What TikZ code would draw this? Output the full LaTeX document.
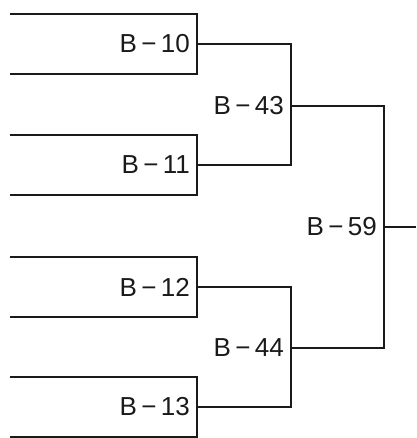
\documentclass[tikz,border=0pt]{standalone}
\usepackage{fontspec}
\setsansfont{Liberation Sans}
\usepackage{tikz}
\usetikzlibrary{positioning,calc}
\definecolor{ink}{HTML}{1A1A1A}
\tikzset{
  every node/.style={font=\sffamily\fontsize{26}{30}\selectfont, text=ink},
  % --- nodes
  team/.style  = {minimum width=187pt, minimum height=60pt, inner xsep=7pt,
                  text width=173pt, align=right, anchor=east},
  rnd/.style   = {anchor=east, inner xsep=7pt, inner ysep=2pt},
  % --- edges
  e/.style     = {draw=ink, line width=1.8pt},
}
\begin{document}
\begin{tikzpicture}[x=1pt,y=1pt]
  \useasboundingbox (0,0) rectangle (416,-438);
  \node[team] (b10) at (197,-44)  {B\,−\,10};
  \node[team] (b11) at (197,-165) {B\,−\,11};
  \node[team] (b12) at (197,-287) {B\,−\,12};
  \node[team] (b13) at (197,-407) {B\,−\,13};
  \node[rnd] (b43) at (291,-106) {B\,−\,43};
  \node[rnd] (b44) at (291,-348) {B\,−\,44};
  \node[rnd] (b59) at (384,-227) {B\,−\,59};
  \coordinate (out) at (416,-227);
  \foreach \n in {b10,b11,b12,b13}
    \draw[e] (\n.north west) -- (\n.north east) -- (\n.south east) -- (\n.south west);
  \draw[e] (b10.east) -| (b43.east); \draw[e] (b43.east) |- (b11.east);
  \draw[e] (b12.east) -| (b44.east); \draw[e] (b44.east) |- (b13.east);
  \draw[e] (b43.east) -| (b59.east); \draw[e] (b59.east) |- (b44.east);
  \draw[e] (b59.east) -- (out);
\end{tikzpicture}
\end{document}
